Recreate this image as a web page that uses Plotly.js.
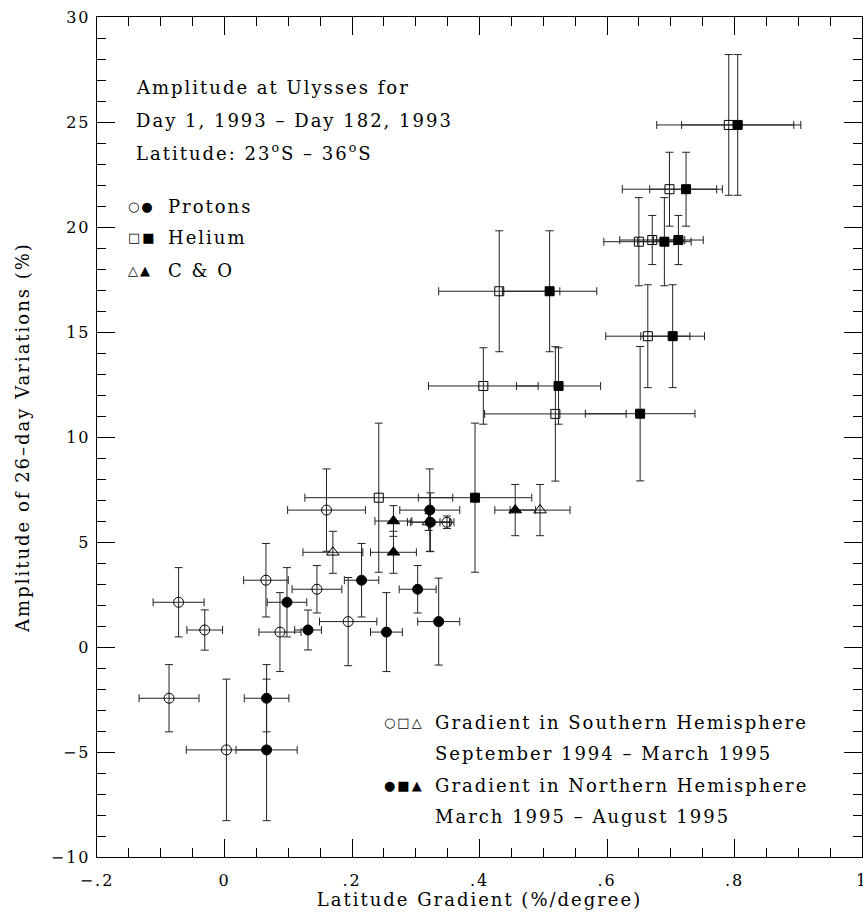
<!DOCTYPE html>
<html>
<head>
<meta charset="utf-8">
<script src="https://cdn.plot.ly/plotly-3.0.1.min.js"></script>
<style>
html,body{margin:0;padding:0;background:#fff;}
#chart{width:863px;height:913px;}
text{letter-spacing:2px;}
</style>
</head>
<body>
<div id="chart"></div>
<script>
// Southern hemisphere (open symbols)
const spX    = [-0.072, -0.031, -0.087, 0.003, 0.160, 0.065, 0.145, 0.087, 0.194, 0.349];
const spY    = [2.13, 0.81, -2.44, -4.90, 6.52, 3.18, 2.75, 0.71, 1.21, 5.94];
const spXerr = [0.040, 0.028, 0.047, 0.063, 0.061, 0.035, 0.039, 0.033, 0.045, 0.011];
const spYerr = [1.65, 0.96, 1.60, 3.37, 1.96, 1.75, 1.13, 1.88, 2.10, 0.30];

const shX    = [0.242, 0.431, 0.406, 0.519, 0.791, 0.698, 0.650, 0.671, 0.664];
const shY    = [7.11, 16.94, 12.43, 11.10, 24.86, 21.80, 19.30, 19.38, 14.80];
const shXerr = [0.116, 0.095, 0.086, 0.111, 0.113, 0.074, 0.055, 0.051, 0.066];
const shYerr = [3.55, 2.88, 1.82, 3.20, 3.35, 1.76, 2.10, 1.17, 2.45];

const scX    = [0.170, 0.495, 0.320];
const scY    = [4.51, 6.52, 5.95];
const scXerr = [0.047, 0.047, 0.033];
const scYerr = [1.00, 1.22, 0.40];

// Northern hemisphere (filled symbols)
const npX    = [0.066, 0.066, 0.322, 0.215, 0.098, 0.303, 0.131, 0.336, 0.254, 0.323];
const npY    = [-2.44, -4.90, 6.52, 3.18, 2.13, 2.75, 0.81, 1.21, 0.71, 5.94];
const npXerr = [0.035, 0.048, 0.047, 0.027, 0.031, 0.029, 0.021, 0.033, 0.025, 0.031];
const npYerr = [1.60, 3.37, 1.96, 1.75, 1.65, 1.13, 0.95, 2.07, 1.88, 1.40];

const nhX    = [0.393, 0.510, 0.524, 0.652, 0.805, 0.724, 0.690, 0.712, 0.703];
const nhY    = [7.11, 16.94, 12.43, 11.11, 24.86, 21.80, 19.30, 19.38, 14.80];
const nhXerr = [0.089, 0.074, 0.066, 0.086, 0.088, 0.057, 0.042, 0.039, 0.050];
const nhYerr = [3.55, 2.88, 1.82, 3.20, 3.35, 1.76, 2.10, 1.17, 2.45];

const ncX    = [0.265, 0.265, 0.456];
const ncY    = [6.00, 4.51, 6.52];
const ncXerr = [0.029, 0.036, 0.032];
const ncYerr = [0.73, 1.00, 1.22];

const xTickVals = [-0.2, 0, 0.2, 0.4, 0.6, 0.8, 1];
const xTickText = ["\u2212.2", "0", ".2", ".4", ".6", ".8", "1"];
const yTickVals = [-10, -5, 0, 5, 10, 15, 20, 25, 30];
const yTickText = ["\u221210", "\u22125", "0", "5", "10", "15", "20", "25", "30"];

const FONT = "DejaVu Serif";

function tr(x, y, xe, ye, symbol, size) {
  return {
    type: 'scatter', mode: 'markers', x: x, y: y,
    error_x: {type: 'data', array: xe, visible: true, color: '#222', thickness: 1, width: 4},
    error_y: {type: 'data', array: ye, visible: true, color: '#222', thickness: 1, width: 4},
    marker: {symbol: symbol, size: size, color: '#000', line: {color: '#000', width: 1}},
    showlegend: false, hoverinfo: 'skip'
  };
}

const data = [
  tr(spX, spY, spXerr, spYerr, 'circle-open', 10),
  tr(shX, shY, shXerr, shYerr, 'square-open', 9),
  tr(scX, scY, scXerr, scYerr, 'triangle-up-open', 11),
  tr(npX, npY, npXerr, npYerr, 'circle', 10),
  tr(nhX, nhY, nhXerr, nhYerr, 'square', 9),
  tr(ncX, ncY, ncXerr, ncYerr, 'triangle-up', 11),
  // empty trace to carry the mirrored top/right tick axes
  {type: 'scatter', mode: 'markers', x: [], y: [], xaxis: 'x2', yaxis: 'y2', showlegend: false, hoverinfo: 'skip'}
];

// paper coords from pixel: plot area x 97..862, y 17..857
function px(p) { return (p - 97) / 765; }
function py(p) { return (857 - p) / 840; }
function ann(x, y, text, size, fam) {
  return {xref: 'paper', yref: 'paper', x: px(x), y: py(y), text: text, showarrow: false,
          xanchor: 'left', yanchor: 'middle', font: {family: fam || FONT, size: size || 18, color: '#000'}};
}

const annotations = [
  ann(134, 87, "Amplitude at Ulysses for"),
  ann(134, 120, "Day 1, 1993 \u2013 Day 182, 1993"),
  ann(134, 152, "Latitude: 23<sup>o</sup>S \u2013 36<sup>o</sup>S"),
  ann(126, 207, "\u25CB\u25CF", 13, "DejaVu Sans"),
  ann(166, 207, "Protons"),
  ann(126, 238, "\u25A1\u25A0", 13, "DejaVu Sans"),
  ann(166, 238, "Helium"),
  ann(126, 270, "\u25B3\u25B2", 13, "DejaVu Sans"),
  ann(166, 270, "C &amp; O"),
  ann(382, 722, "\u25CB\u25A1\u25B3", 13, "DejaVu Sans"),
  ann(433, 722, "Gradient in Southern Hemisphere"),
  ann(433, 753, "September 1994 \u2013 March 1995"),
  ann(382, 785, "\u25CF\u25A0\u25B2", 13, "DejaVu Sans"),
  ann(433, 785, "Gradient in Northern Hemisphere"),
  ann(433, 816, "March 1995 \u2013 August 1995")
];

const common = {
  ticks: 'inside', ticklen: 18, tickwidth: 1, tickcolor: '#000',
  showline: true, linecolor: '#000', linewidth: 1.3,
  showgrid: false, zeroline: false
};

const layout = {
  width: 863, height: 913,
  margin: {l: 97, r: 1, t: 17, b: 56},
  paper_bgcolor: '#fff', plot_bgcolor: '#fff',
  font: {family: FONT, size: 16, color: '#000'},
  showlegend: false,
  xaxis: Object.assign({}, common, {
    range: [-0.2, 1], tickmode: 'array', tickvals: xTickVals, ticktext: xTickText,
    tickfont: {family: FONT, size: 16}, ticklabelstandoff: 8, ticklabeloverflow: 'allow',
    minor: {tickmode: 'linear', tick0: -0.2, dtick: 0.05, ticks: 'inside', ticklen: 9, tickcolor: '#000', tickwidth: 1, showgrid: false},
    title: {text: 'Latitude Gradient (%/degree)', font: {family: FONT, size: 18}, standoff: 2}
  }),
  yaxis: Object.assign({}, common, {
    range: [-10, 30], tickmode: 'array', tickvals: yTickVals, ticktext: yTickText,
    tickfont: {family: FONT, size: 16}, ticklabelstandoff: 2,
    minor: {tickmode: 'linear', tick0: -10, dtick: 1, ticks: 'inside', ticklen: 9, tickcolor: '#000', tickwidth: 1, showgrid: false},
    title: {text: 'Amplitude of 26\u2013day Variations (%)', font: {family: FONT, size: 18}, standoff: 16}
  }),
  xaxis2: Object.assign({}, common, {
    overlaying: 'x', matches: 'x', side: 'top', anchor: 'y2',
    range: [-0.2, 1], tickmode: 'array', tickvals: xTickVals, showticklabels: false,
    minor: {tickmode: 'linear', tick0: -0.2, dtick: 0.05, ticks: 'inside', ticklen: 9, tickcolor: '#000', tickwidth: 1, showgrid: false}
  }),
  yaxis2: Object.assign({}, common, {
    overlaying: 'y', matches: 'y', side: 'right', anchor: 'x2',
    range: [-10, 30], tickmode: 'array', tickvals: yTickVals, showticklabels: false,
    minor: {tickmode: 'linear', tick0: -10, dtick: 1, ticks: 'inside', ticklen: 9, tickcolor: '#000', tickwidth: 1, showgrid: false}
  }),
  annotations: annotations
};

Plotly.newPlot('chart', data, layout, {displayModeBar: false, staticPlot: true});
</script>
</body>
</html>
